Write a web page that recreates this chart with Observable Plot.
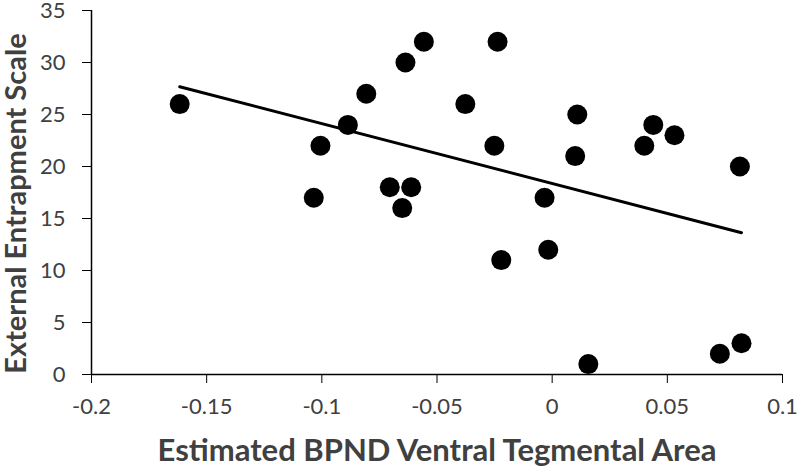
<!DOCTYPE html>
<html>
<head>
<meta charset="utf-8">
<script src="https://cdn.jsdelivr.net/npm/d3@7"></script>
<script src="https://cdn.jsdelivr.net/npm/@observablehq/plot@0.6"></script>
<style>
  html, body { margin: 0; padding: 0; background: #fff; }
  .scatter g[aria-label="x-axis tick label"],
  .scatter g[aria-label="y-axis tick label"] { font-size: 22px; }
</style>
</head>
<body>
<div id="chart"></div>
<script>
const bpnd = [-0.1617, -0.1006, -0.1035, -0.0887, -0.0807, -0.0705, -0.0651, -0.0612, -0.0637, -0.0557,
              -0.0377, -0.0237, -0.0251, -0.0221, -0.0033, -0.0017, 0.0109, 0.0100, 0.0157, 0.0439,
              0.0400, 0.0531, 0.0815, 0.0728, 0.0822];
const entrapment = [26, 22, 17, 24, 27, 18, 16, 18, 30, 32,
                    26, 32, 22, 11, 17, 12, 25, 21, 1, 24,
                    22, 23, 20, 2, 3];
const xTicks = [-0.2, -0.15, -0.1, -0.05, 0, 0.05, 0.1];
const yTicks = [0, 5, 10, 15, 20, 25, 30, 35];
const xTitle = "Estimated BPND Ventral Tegmental Area";
const yTitle = "External Entrapment Scale";

const data = bpnd.map((x, i) => ({x, y: entrapment[i]}));
const textColor = "#404040";

const chart = Plot.plot({
  className: "scatter",
  width: 800,
  height: 469,
  marginLeft: 91,
  marginRight: 18,
  marginTop: 10,
  marginBottom: 95,
  style: {fontFamily: "Lato, 'Open Sans', sans-serif", fontSize: "22px", color: textColor, background: "#fff"},
  x: {domain: [-0.2, 0.1]},
  y: {domain: [0, 35]},
  marks: [
    Plot.axisX({ticks: xTicks, tickFormat: d => String(d), tickSize: 9, tickPadding: 15, fontSize: 22, label: null, stroke: "#000", fill: textColor}),
    Plot.axisY({ticks: yTicks, tickFormat: d => String(d), tickSize: 9, tickPadding: 17, fontSize: 22, label: null, stroke: "#000", fill: textColor}),
    Plot.ruleY([0], {stroke: "#000", strokeWidth: 1.5}),
    Plot.ruleX([-0.2], {stroke: "#000", strokeWidth: 1.5}),
    Plot.linearRegressionY(data, {x: "x", y: "y", stroke: "#000", strokeWidth: 3, ci: 0}),
    Plot.dot(data, {x: "x", y: "y", r: 10, fill: "#000", stroke: "none"}),
    Plot.text([xTitle], {frameAnchor: "bottom", dy: 86, fontSize: 31, fontWeight: "bold", fill: textColor}),
    Plot.text([yTitle], {frameAnchor: "left", textAnchor: "middle", dx: -75, dy: 11, rotate: -90, fontSize: 29, fontWeight: "bold", fill: textColor})
  ]
});
document.getElementById("chart").appendChild(chart);
</script>
</body>
</html>
